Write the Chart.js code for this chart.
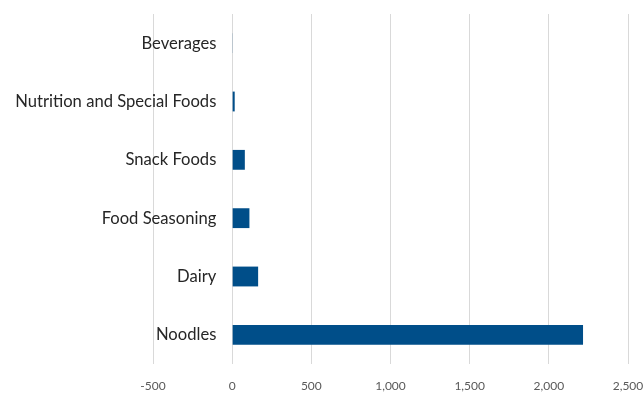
<!DOCTYPE html>
<html>
<head>
<meta charset="utf-8">
<script src="https://cdn.jsdelivr.net/npm/chart.js@4"></script>
<style>
  html, body { margin: 0; padding: 0; background: #fff; }
  #wrap { width: 643px; height: 394px; }
</style>
</head>
<body>
<div id="wrap"><canvas id="chart"></canvas></div>
<script>
// categories top to bottom, as in the picture
const categories = ['Beverages', 'Nutrition and Special Foods', 'Snack Foods', 'Food Seasoning', 'Dairy', 'Noodles'];
const values = [4, 16, 80, 109, 164, 2216];
const xTicks = [-500, 0, 500, 1000, 1500, 2000, 2500];

const ctx = document.getElementById('chart').getContext('2d');

const chart = new Chart(ctx, {
  type: 'bar',
  data: {
    labels: categories,
    datasets: [{
      data: values,
      backgroundColor: '#004e89',
      borderWidth: 0,
      categoryPercentage: 1,
      barPercentage: 0.34
    }]
  },
  options: {
    indexAxis: 'y',
    responsive: true,
    maintainAspectRatio: false,
    animation: false,
    layout: { padding: { left: 153, top: 14, right: 15, bottom: 0 } },
    plugins: {
      legend: { display: false },
      tooltip: { enabled: false }
    },
    scales: {
      x: {
        min: xTicks[0],
        max: xTicks[xTicks.length - 1],
        afterBuildTicks: (scale) => {
          scale.ticks = xTicks.map(v => ({ value: v }));
        },
        // chart.js doubles the tick padding and adds it to the side overhang, trim that back
        afterFit: (scale) => {
          scale.height = 30;
          scale.paddingLeft = 0;
          scale.paddingRight = 0;
        },
        grid: { color: '#d9d9d9', lineWidth: 1, drawTicks: false },
        border: { display: false },
        ticks: {
          padding: 15,
          color: '#595959',
          font: { family: 'Lato', size: 12 },
          callback: (v) => v.toLocaleString('en-US')
        }
      },
      y: {
        // labels sit just left of the zero line, like the category axis crossing at 0
        position: { x: -100 },
        grid: { display: false, drawTicks: false },
        border: { display: false },
        ticks: {
          padding: 0,
          color: '#262626',
          font: { family: 'Lato', size: 16.6 }
        }
      }
    }
  }
});
</script>
</body>
</html>
